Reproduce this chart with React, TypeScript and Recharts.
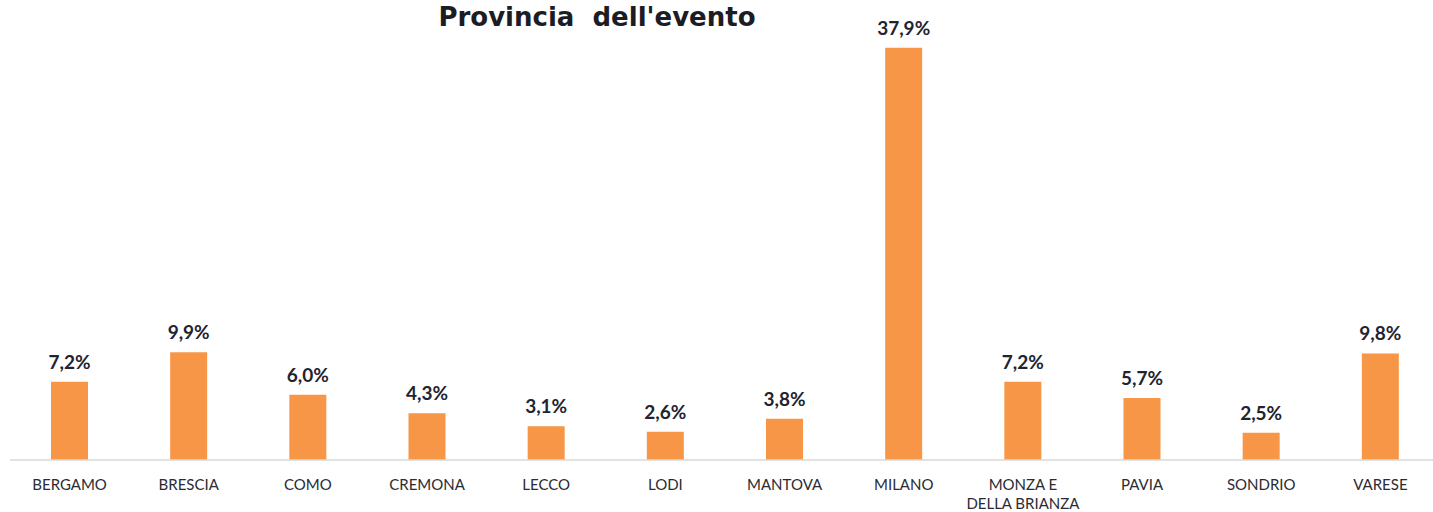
import { FC } from "react";
import { BarChart, Bar, XAxis, YAxis, LabelList } from "recharts";

const provinces = [
  "BERGAMO",
  "BRESCIA",
  "COMO",
  "CREMONA",
  "LECCO",
  "LODI",
  "MANTOVA",
  "MILANO",
  "MONZA E\nDELLA BRIANZA",
  "PAVIA",
  "SONDRIO",
  "VARESE",
];
const shares = [7.2, 9.9, 6.0, 4.3, 3.1, 2.6, 3.8, 37.9, 7.2, 5.7, 2.5, 9.8];

const data = provinces.map((name, i) => ({ name, value: shares[i] }));

const fmt = (v: any) => Number(v).toFixed(1).replace(".", ",") + "%";

const ProvinceTick: FC<any> = ({ x, y, payload }) => {
  const lines = String(payload.value).split("\n");
  return (
    <text
      x={x}
      y={y}
      textAnchor="middle"
      fill="#2b2b33"
      fontSize={15}
      fontFamily="Lato, 'Open Sans', sans-serif"
    >
      {lines.map((l, i) => (
        <tspan key={i} x={x} dy={i === 0 ? 22 : 19}>
          {l}
        </tspan>
      ))}
    </text>
  );
};

export default function App() {
  return (
    <div
      style={{
        position: "absolute",
        left: 0,
        top: 0,
        width: 1433,
        height: 512,
        overflow: "hidden",
        background: "#fff",
      }}
    >
      <BarChart
        width={1440}
        height={512}
        data={data}
        margin={{ top: 25, right: 0, left: 10, bottom: 22 }}
      >
        <XAxis
          dataKey="name"
          height={30}
          axisLine={{ stroke: "#d9d9d9", strokeWidth: 1.5 }}
          tickLine={false}
          interval={0}
          tick={<ProvinceTick />}
        />
        <YAxis hide domain={[0, 40]} />
        <Bar dataKey="value" fill="#F79646" barSize={37} isAnimationActive={false}>
          <LabelList
            dataKey="value"
            position="top"
            offset={13}
            formatter={fmt}
            fill="#1f2430"
            fontSize={19}
            fontWeight="bold"
            fontFamily="Lato, 'Open Sans', sans-serif"
          />
        </Bar>
      </BarChart>
      <div
        style={{
          position: "absolute",
          left: 417,
          top: 2,
          width: 360,
          textAlign: "center",
          fontFamily: "'DejaVu Sans', Verdana, sans-serif",
          fontWeight: "bold",
          fontSize: 26,
          lineHeight: "30px",
          color: "#1c1c24",
          whiteSpace: "pre",
        }}
      >
        Provincia  dell'evento
      </div>
    </div>
  );
}
